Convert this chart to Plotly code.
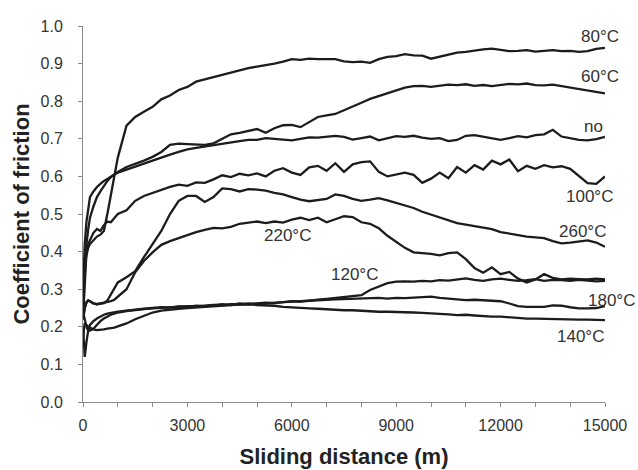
import plotly.graph_objects as go

# Sliding distance sample positions (m)
distance = [0, 50, 100, 150, 200, 300, 400, 500, 600, 700, 800, 900, 1000,
            1250, 1500, 1750, 2000, 2250, 2500, 2750, 3000, 3250, 3500, 3750, 4000,
            4250, 4500, 4750, 5000, 5250, 5500, 5750, 6000, 6250, 6500, 6750, 7000,
            7250, 7500, 7750, 8000, 8250, 8500, 8750, 9000, 9250, 9500, 9750, 10000,
            10250, 10500, 10750, 11000, 11250, 11500, 11750, 12000, 12250, 12500, 12750, 13000,
            13250, 13500, 13750, 14000, 14250, 14500, 14750, 15000]

# Coefficient of friction per test condition
cof_80 = [0.30, 0.36, 0.39, 0.41, 0.42, 0.43, 0.44, 0.445, 0.455, 0.50, 0.55, 0.61, 0.65,
          0.735, 0.758, 0.772, 0.785, 0.805, 0.815, 0.830, 0.838, 0.852, 0.858, 0.866, 0.872,
          0.876, 0.882, 0.888, 0.892, 0.895, 0.900, 0.905, 0.912, 0.910, 0.913, 0.912, 0.911,
          0.912, 0.906, 0.904, 0.905, 0.902, 0.912, 0.918, 0.920, 0.925, 0.922, 0.921, 0.913,
          0.918, 0.924, 0.929, 0.931, 0.935, 0.938, 0.940, 0.936, 0.933, 0.934, 0.936, 0.932,
          0.934, 0.936, 0.933, 0.934, 0.931, 0.933, 0.939, 0.942]

cof_60 = [0.25, 0.35, 0.42, 0.46, 0.49, 0.52, 0.545, 0.56, 0.575, 0.588, 0.598, 0.605, 0.612,
          0.625, 0.633, 0.642, 0.652, 0.665, 0.684, 0.687, 0.686, 0.685, 0.684, 0.688, 0.700,
          0.712, 0.716, 0.722, 0.726, 0.716, 0.728, 0.736, 0.737, 0.731, 0.745, 0.758, 0.762,
          0.766, 0.776, 0.785, 0.796, 0.806, 0.814, 0.822, 0.830, 0.836, 0.840, 0.841, 0.838,
          0.842, 0.844, 0.843, 0.845, 0.841, 0.843, 0.840, 0.844, 0.846, 0.845, 0.847, 0.843,
          0.842, 0.844, 0.840, 0.837, 0.834, 0.830, 0.826, 0.821]

cof_no = [0.30, 0.42, 0.48, 0.52, 0.545, 0.56, 0.572, 0.58, 0.588, 0.593, 0.600, 0.605, 0.610,
          0.618, 0.628, 0.635, 0.642, 0.652, 0.658, 0.665, 0.672, 0.676, 0.680, 0.684, 0.688,
          0.690, 0.694, 0.697, 0.697, 0.702, 0.700, 0.698, 0.696, 0.700, 0.704, 0.703, 0.706,
          0.708, 0.705, 0.698, 0.702, 0.706, 0.696, 0.702, 0.707, 0.705, 0.708, 0.703, 0.700,
          0.702, 0.694, 0.697, 0.708, 0.710, 0.706, 0.700, 0.697, 0.702, 0.707, 0.704, 0.710,
          0.712, 0.724, 0.706, 0.702, 0.697, 0.696, 0.699, 0.705]

cof_100 = [0.22, 0.33, 0.40, 0.42, 0.43, 0.45, 0.46, 0.455, 0.47, 0.48, 0.478, 0.49, 0.50,
           0.51, 0.535, 0.548, 0.556, 0.566, 0.572, 0.578, 0.575, 0.584, 0.583, 0.592, 0.603,
           0.598, 0.607, 0.603, 0.608, 0.600, 0.615, 0.622, 0.610, 0.604, 0.624, 0.628, 0.615,
           0.635, 0.612, 0.632, 0.638, 0.640, 0.612, 0.600, 0.604, 0.610, 0.604, 0.583, 0.594,
           0.610, 0.595, 0.625, 0.610, 0.630, 0.618, 0.642, 0.632, 0.645, 0.614, 0.628, 0.620,
           0.630, 0.624, 0.627, 0.620, 0.600, 0.582, 0.580, 0.600]

cof_260 = [0.22, 0.25, 0.265, 0.27, 0.268, 0.262, 0.26, 0.262, 0.263, 0.27, 0.285, 0.30, 0.318,
           0.332, 0.348, 0.385, 0.420, 0.455, 0.500, 0.535, 0.548, 0.548, 0.532, 0.545, 0.568,
           0.566, 0.560, 0.566, 0.565, 0.562, 0.556, 0.552, 0.545, 0.538, 0.534, 0.536, 0.540,
           0.552, 0.548, 0.540, 0.535, 0.538, 0.542, 0.536, 0.530, 0.524, 0.516, 0.506, 0.498,
           0.490, 0.484, 0.476, 0.472, 0.468, 0.462, 0.460, 0.452, 0.448, 0.442, 0.440, 0.438,
           0.436, 0.428, 0.422, 0.424, 0.428, 0.430, 0.424, 0.413]

cof_220 = [0.22, 0.25, 0.265, 0.27, 0.268, 0.262, 0.26, 0.262, 0.263, 0.265, 0.268, 0.272, 0.28,
           0.300, 0.345, 0.375, 0.398, 0.418, 0.428, 0.436, 0.445, 0.452, 0.458, 0.463, 0.462,
           0.466, 0.474, 0.478, 0.480, 0.476, 0.480, 0.477, 0.485, 0.490, 0.484, 0.490, 0.478,
           0.486, 0.494, 0.492, 0.478, 0.474, 0.462, 0.442, 0.425, 0.410, 0.398, 0.396, 0.394,
           0.390, 0.396, 0.398, 0.380, 0.356, 0.344, 0.358, 0.340, 0.346, 0.328, 0.318, 0.326,
           0.340, 0.330, 0.326, 0.328, 0.327, 0.326, 0.328, 0.326]

cof_120 = [0.20, 0.12, 0.16, 0.19, 0.205, 0.215, 0.222, 0.228, 0.232, 0.235, 0.236, 0.238, 0.240,
           0.243, 0.246, 0.248, 0.250, 0.252, 0.251, 0.254, 0.253, 0.256, 0.255, 0.258, 0.260,
           0.258, 0.262, 0.260, 0.262, 0.264, 0.263, 0.266, 0.268, 0.267, 0.270, 0.272, 0.274,
           0.276, 0.278, 0.282, 0.284, 0.298, 0.306, 0.316, 0.320, 0.321, 0.320, 0.322, 0.321,
           0.324, 0.323, 0.326, 0.329, 0.325, 0.322, 0.326, 0.328, 0.325, 0.322, 0.324, 0.327,
           0.322, 0.325, 0.324, 0.322, 0.325, 0.323, 0.321, 0.322]

cof_180 = [0.24, 0.22, 0.20, 0.19, 0.19, 0.195, 0.205, 0.215, 0.222, 0.228, 0.232, 0.235, 0.238,
           0.242, 0.245, 0.247, 0.249, 0.250, 0.252, 0.253, 0.255, 0.254, 0.257, 0.258, 0.257,
           0.260, 0.259, 0.262, 0.261, 0.263, 0.265, 0.266, 0.267, 0.268, 0.270, 0.271, 0.272,
           0.273, 0.274, 0.276, 0.277, 0.276, 0.277, 0.275, 0.277, 0.276, 0.278, 0.279, 0.280,
           0.277, 0.275, 0.273, 0.271, 0.272, 0.271, 0.270, 0.268, 0.262, 0.255, 0.253, 0.254,
           0.253, 0.257, 0.256, 0.252, 0.249, 0.249, 0.250, 0.255]

cof_140 = [0.17, 0.21, 0.205, 0.20, 0.198, 0.193, 0.191, 0.191, 0.193, 0.195, 0.196, 0.198, 0.201,
           0.209, 0.220, 0.230, 0.238, 0.243, 0.246, 0.248, 0.250, 0.252, 0.253, 0.256, 0.257,
           0.258, 0.259, 0.260, 0.258, 0.258, 0.256, 0.253, 0.251, 0.250, 0.249, 0.248, 0.246,
           0.245, 0.244, 0.244, 0.242, 0.241, 0.240, 0.240, 0.240, 0.239, 0.238, 0.237, 0.236,
           0.235, 0.233, 0.231, 0.232, 0.230, 0.228, 0.227, 0.227, 0.225, 0.224, 0.222, 0.222,
           0.221, 0.221, 0.220, 0.220, 0.219, 0.219, 0.218, 0.218]

series = [
    ("80°C", cof_80), ("60°C", cof_60), ("no", cof_no), ("100°C", cof_100),
    ("260°C", cof_260), ("220°C", cof_220), ("120°C", cof_120),
    ("180°C", cof_180), ("140°C", cof_140),
]

# Axis ticks
x_tick_vals = [0, 3000, 6000, 9000, 12000, 15000]
x_tick_text = ["0", "3000", "6000", "9000", "12000", "15000"]

# Curve label anchors (distance, friction)
label_names = ["80°C", "60°C", "no", "100°C", "260°C", "220°C", "120°C", "180°C", "140°C"]
label_x = [14858, 14858, 14666, 14542, 14341, 5863, 7797, 15192, 14284]
label_y = [0.973, 0.867, 0.732, 0.547, 0.453, 0.442, 0.338, 0.269, 0.175]

X_MAX = 15000
FONT = "Liberation Sans, Arial, sans-serif"
AXIS_GRAY = "#8a8a8a"

fig = go.Figure()
for name, vals in series:
    fig.add_trace(go.Scatter(
        x=distance, y=vals, mode="lines", name=name,
        line=dict(color="#1c1c1c", width=2.3),
        showlegend=False,
    ))

# labels are placed on the x-axis domain so ones past the axis end still show
for name, lx, ly in zip(label_names, label_x, label_y):
    fig.add_annotation(x=lx / X_MAX, xref="x domain", y=ly, yref="y",
                       text=name, showarrow=False,
                       xanchor="center", yanchor="middle",
                       font=dict(family=FONT, size=17, color="#333333"))

fig.update_layout(
    width=638, height=470,
    margin=dict(l=83, r=33, t=26, b=68),
    paper_bgcolor="white", plot_bgcolor="white",
    font=dict(family=FONT, color="#333333"),
)

fig.update_xaxes(
    range=[0, X_MAX], tickvals=x_tick_vals, ticktext=x_tick_text,
    ticks="outside", ticklen=4, tickcolor=AXIS_GRAY, tickwidth=1,
    minor=dict(dtick=1000, ticks="outside", ticklen=4, tickcolor=AXIS_GRAY, showgrid=False),
    showline=True, linecolor=AXIS_GRAY, linewidth=1,
    showgrid=False, zeroline=False, automargin=False,
    tickfont=dict(family=FONT, size=16, color="#333333"),
    ticklabelstandoff=5,
    title=dict(text="<b>Sliding distance (m)</b>", standoff=15,
               font=dict(family=FONT, size=22, color="#222222")),
)

fig.update_yaxes(
    range=[0, 1.0], dtick=0.1, tickformat=".1f",
    ticks="outside", ticklen=4, tickcolor=AXIS_GRAY, tickwidth=1,
    showline=True, linecolor=AXIS_GRAY, linewidth=1,
    showgrid=False, zeroline=False, automargin=False,
    tickfont=dict(family=FONT, size=16, color="#333333"),
    ticklabelstandoff=12,
    title=dict(text="<b>Coefficient of friction</b>", standoff=4,
               font=dict(family=FONT, size=22, color="#222222")),
)

fig.write_html("out.html")
